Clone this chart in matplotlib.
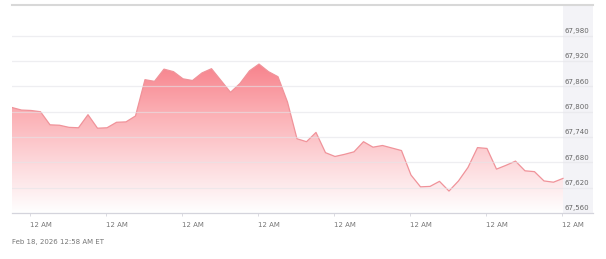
import numpy as np
import matplotlib.pyplot as plt
from matplotlib.transforms import blended_transform_factory
from matplotlib.colors import LinearSegmentedColormap

# price readings, roughly evenly spaced
prices = [67810, 67804, 67803, 67800, 67769, 67768, 67763, 67762, 67793, 67761,
          67762, 67775, 67776, 67790, 67876, 67872, 67901, 67895, 67878, 67874,
          67892, 67902, 67874, 67846, 67867, 67897, 67913, 67895, 67883, 67823,
          67736, 67729, 67751, 67703, 67694, 67699, 67705, 67729, 67716, 67720,
          67714, 67708, 67650, 67622, 67623, 67635, 67612, 67636, 67668, 67715,
          67713, 67664, 67673, 67683, 67660, 67658, 67636, 67633, 67642]
y_ticks = [67560, 67620, 67680, 67740, 67800, 67860, 67920, 67980]
x_ticks = [1.9, 9.9, 17.9, 25.9, 33.9, 41.9, 49.9, 57.9]
x_labels = ["12 AM"] * len(x_ticks)
stamp = "Feb 18, 2026 12:58 AM ET"

x = np.arange(len(prices))
y = np.array(prices)
xmax = len(prices) - 1 + 3.16
ymin, ymax = 67560, 68053

fig = plt.figure(figsize=(6.06, 2.59), dpi=100)
ax = fig.add_axes([12 / 606, 1 - 213 / 259, 581 / 606, 208 / 259])
ax.set_xlim(0, xmax)
ax.set_ylim(ymin, ymax)

# right price panel
ax.axvspan(len(prices) - 1, xmax, color='#f3f3f7', lw=0, zorder=0)

# gradient fill under the line
grad = np.linspace(0, 1, 256).reshape(-1, 1)
cmap = LinearSegmentedColormap.from_list('g', ['#ffffff', '#fdd8db', '#fbaeb3', '#f7808a'])
im = ax.imshow(grad, cmap=cmap, aspect='auto', origin='lower',
               extent=[0, len(prices) - 1, ymin, 67920], zorder=2)
poly = ax.fill_between(x, y, ymin, color='none', lw=0)
im.set_clip_path(poly.get_paths()[0], transform=ax.transData)
ax.plot(x, y, color='#f0939a', lw=0.9, zorder=3)

# grid drawn over the fill, faintly
for v in y_ticks[1:]:
    ax.axhline(v, color='#e4e4e8', lw=0.9, alpha=0.6, zorder=4)

for s in ['left', 'right']:
    ax.spines[s].set_visible(False)
ax.spines['top'].set_color('#d8d8d8')
ax.spines['top'].set_linewidth(1.5)
ax.spines['bottom'].set_color('#d4d4dc')
ax.spines['bottom'].set_linewidth(0.9)

ax.set_yticks([])
ax.set_xticks(x_ticks)
ax.set_xticklabels(x_labels, fontsize=5, color='#777777', ha='left')
ax.tick_params(axis='x', length=2.5, width=0.6, color='#d4d4dc', pad=4)

tr = blended_transform_factory(ax.transAxes, ax.transData)
for v in y_ticks:
    ax.text(577 / 581, v + 4, f"{v:,}", transform=tr, ha='right', va='bottom',
            fontsize=5, color='#666666', zorder=5)

fig.text(12 / 606, 1 - 244 / 259, stamp, fontsize=5, color='#777777')

fig.savefig('out.png', dpi=100)
